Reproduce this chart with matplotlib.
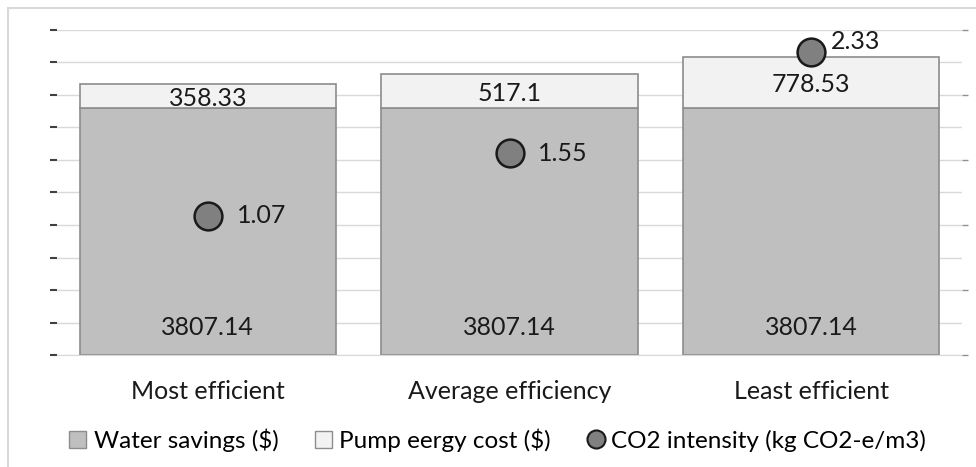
import matplotlib
matplotlib.use("Agg")
import matplotlib.pyplot as plt
from matplotlib.lines import Line2D
from matplotlib.patches import Patch, Rectangle

plt.rcParams['font.family'] = ['Lato', 'DejaVu Sans']

categories = ["Most efficient", "Average efficiency", "Least efficient"]
water_savings = [3807.14, 3807.14, 3807.14]
pump_cost = [358.33, 517.1, 778.53]
co2_intensity = [1.07, 1.55, 2.33]
legend_labels = ["Water savings ($)", "Pump eergy cost ($)", "CO2 intensity (kg CO2-e/m3)"]

fig = plt.figure(figsize=(9.76, 4.67), dpi=100)
ax = fig.add_axes([57/976, 1-355/467, 905/976, 325/467])

x = list(range(len(categories)))
w = 0.85
ax.bar(x, water_savings, width=w, color="#BFBFBF", edgecolor="#8C8C8C", linewidth=1.2, zorder=2)
ax.bar(x, pump_cost, width=w, bottom=water_savings, color="#F2F2F2", edgecolor="#8C8C8C", linewidth=1.2, zorder=2)

ax.set_xlim(-0.5, 2.5)
ax.set_ylim(0, 5000)
ax.set_yticks([i*500 for i in range(11)])
ax.set_yticklabels([])
ax.set_xticks(x)
ax.set_xticklabels(categories, fontsize=18, color="#1a1a1a")
ax.tick_params(axis='x', length=0, pad=18)
ax.tick_params(axis='y', length=5, width=1.5, color="#404040", pad=2)
ax.grid(axis='y', color="#D9D9D9", linewidth=1, zorder=0)
for s in ax.spines.values():
    s.set_visible(False)
ax.spines['bottom'].set_visible(True)
ax.spines['bottom'].set_color("#D9D9D9")

for i in x:
    ax.text(i, 430, f"{water_savings[i]:g}", ha='center', va='center', fontsize=18, color="#1a1a1a", zorder=5)
    ax.text(i, water_savings[i] + pump_cost[i]/2 - 40, f"{pump_cost[i]:g}", ha='center', va='center', fontsize=18, color="#1a1a1a", zorder=5)

ax2 = ax.twinx()
ax2.set_ylim(0, 2.5)
ax2.set_yticks([0, 0.5, 1.0, 1.5, 2.0, 2.5])
ax2.set_yticklabels([])
ax2.tick_params(axis='y', length=4, width=1, color="#909090")
for s in ax2.spines.values():
    s.set_visible(False)
ax2.plot(x, co2_intensity, linestyle='none', marker='o', markersize=20,
         markerfacecolor="#808080", markeredgecolor="#1a1a1a", markeredgewidth=1.8, zorder=6)
offsets = [(0.095, 0.0), (0.095, 0.0), (0.065, 0.08)]
for i in x:
    dx, dy = offsets[i]
    ax2.text(i + dx, co2_intensity[i] + dy, f"{co2_intensity[i]:g}", ha='left', va='center', fontsize=18, color="#1a1a1a", zorder=7)

handles = [Patch(facecolor="#BFBFBF", edgecolor="#8C8C8C"),
           Patch(facecolor="#F2F2F2", edgecolor="#8C8C8C"),
           Line2D([], [], linestyle='none', marker='o', markersize=13, markerfacecolor="#808080", markeredgecolor="#1a1a1a", markeredgewidth=1.5)]
fig.legend(handles, legend_labels, loc='center', bbox_to_anchor=(0.51, 1-440/467), ncol=3, frameon=False,
           fontsize=17.5, handlelength=0.7, handleheight=0.7, handletextpad=0.3, columnspacing=1.5)

fig.add_artist(Rectangle((8/976, -0.1), 1.2, 1-8/467+0.1, transform=fig.transFigure, fill=False,
                         edgecolor="#D9D9D9", linewidth=1.5))

fig.savefig("out.png", dpi=100)
